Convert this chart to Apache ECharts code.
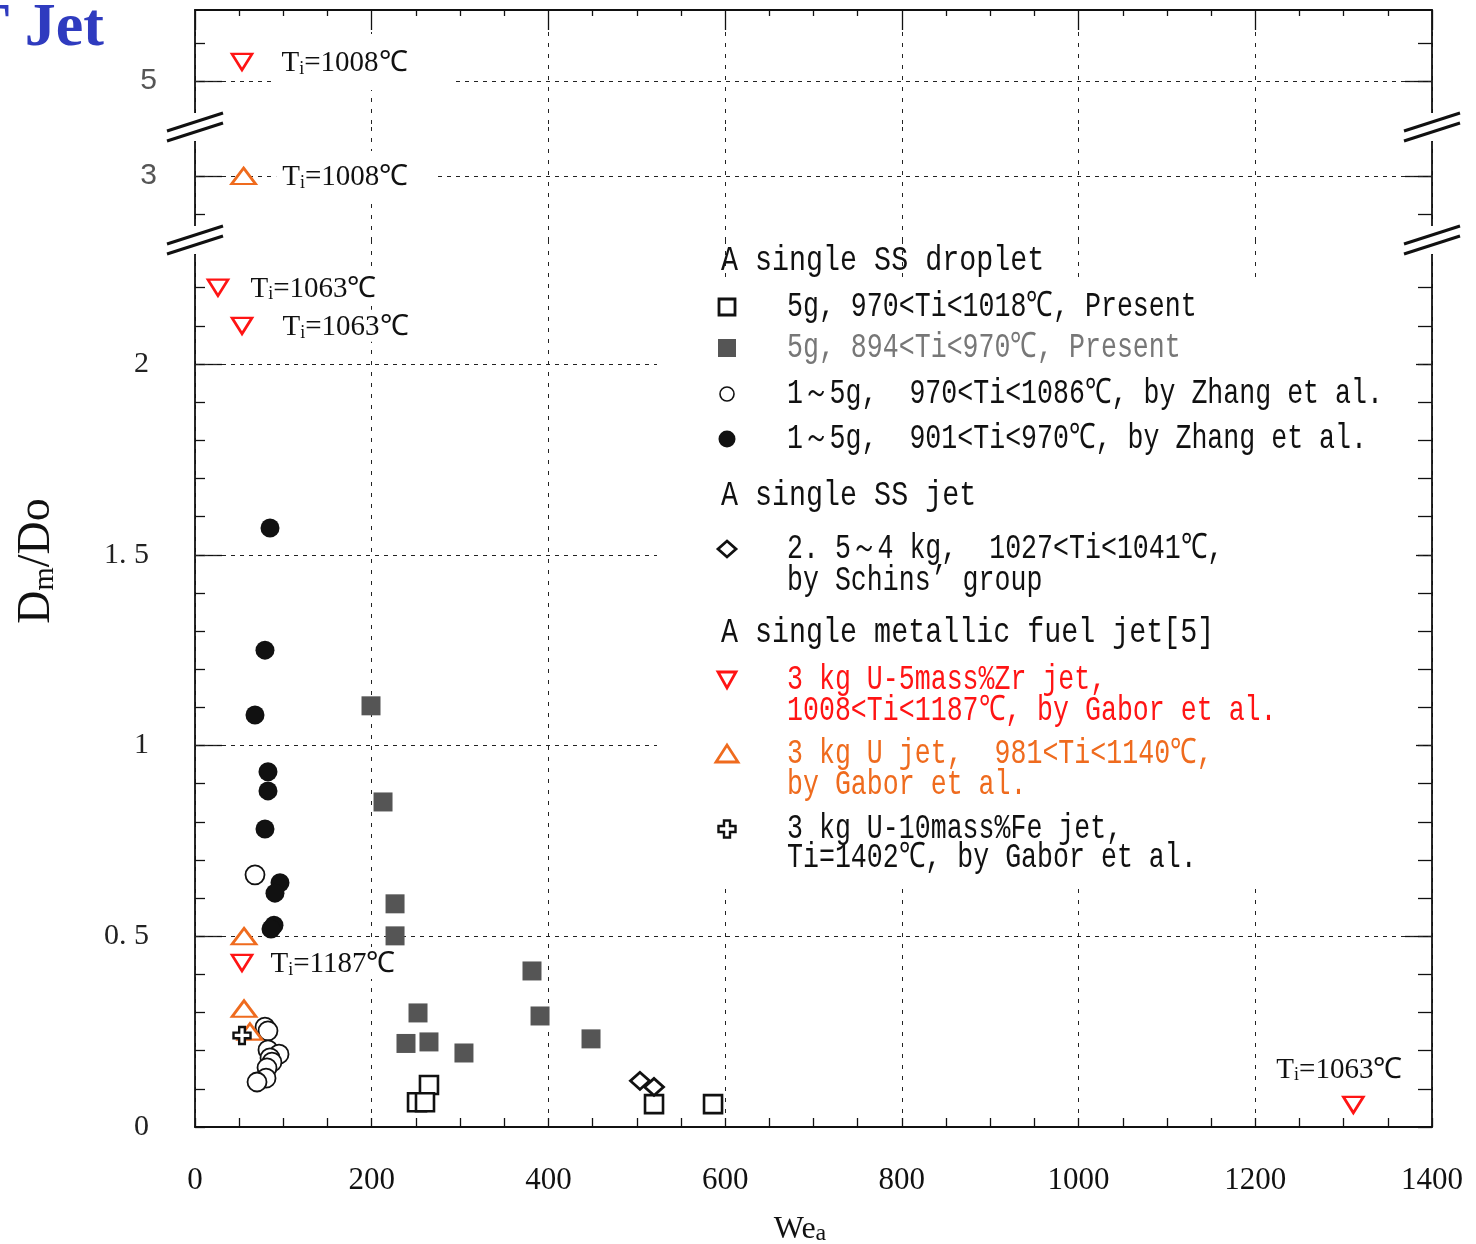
<!DOCTYPE html>
<html>
<head>
<meta charset="utf-8">
<script src="https://cdn.jsdelivr.net/npm/echarts@6/dist/echarts.min.js"></script>
<style>
  html, body { margin: 0; padding: 0; background: #fff; }
  #chart { width: 1476px; height: 1244px; }
</style>
</head>
<body>
<div id="chart"></div>
<script>
// ---------------- data: [We_a, Dm/Do] ----------------
// single SS droplet, 5 g, 970<Ti<1018 C (present work)
const present5gHot = [[264.8, 0.110], [251.3, 0.065], [260.3, 0.065], [519.5, 0.060], [586.3, 0.060]];
// single SS droplet, 5 g, 894<Ti<970 C (present work)
const present5gCool = [[199.2, 1.104], [212.8, 0.852], [226.4, 0.585], [226.4, 0.501], [381.4, 0.409],
  [252.4, 0.299], [390.5, 0.291], [238.8, 0.219], [264.8, 0.223], [304.4, 0.194], [448.2, 0.231]];
// single SS droplet, 1-5 g, 970<Ti<1086 C (Zhang et al.)
const zhangHot = [[67.9, 0.661], [79.2, 0.262], [82.6, 0.252], [82.6, 0.202], [95.1, 0.191],
  [84.9, 0.181], [87.1, 0.170], [81.5, 0.155], [80.4, 0.128], [70.2, 0.118]];
// single SS droplet, 1-5 g, 901<Ti<970 C (Zhang et al.)
const zhangCool = [[84.9, 1.570], [79.2, 1.250], [67.9, 1.080], [82.6, 0.931], [82.6, 0.881],
  [79.2, 0.781], [96.2, 0.640], [90.5, 0.613], [89.4, 0.529], [86.0, 0.519]];
// single SS jet, 2.5-4 kg (Schins' group)
const schinsJet = [[503.6, 0.121], [519.5, 0.105]];
// 3 kg U-5mass%Zr jet (Gabor et al.) and the initial temperature noted beside points
const gaborUZr = [[53.2, 5.05], [26.0, 2.20], [53.2, 2.10], [53.2, 0.43], [1311.0, 0.058]];
const gaborUZrTi = [1008, 1063, 1063, 1187, 1063];
// 3 kg U jet (Gabor et al.)
const gaborU = [[55.0, 3.0], [55.5, 0.50], [55.5, 0.31], [62.2, 0.25]];
const gaborUTi = [1008, null, null, null];
// 3 kg U-10mass%Fe jet (Gabor et al.)
const gaborUFe = [[53.2, 0.24]];

// axis ticks
const xMin = 0, xMax = 1400, xStep = 200;
const yLabelsTop = [5];
const yLabelsMid = [3];
const yLabelsLow = [0, 0.5, 1, 1.5, 2];

// ---------------- layout ----------------
const PLOT_L = 195, PLOT_R = 1432;
const UNIT = 381.5;                 // pixels per 1.0 of Dm/Do, same scale on every band
const RED = '#ff1414', ORANGE = '#ef6b1e', GREY_SQ = '#555555';
const INK = '#111';

// three stacked bands of the broken y axis
const BANDS = [
  { top: 10,  bottom: 127,  anchor: 5, anchorY: 81,   labels: yLabelsTop, labelFont: 'Liberation Sans', labelColor: '#555', margin: 38 },
  { top: 127, bottom: 240,  anchor: 3, anchorY: 176,  labels: yLabelsMid, labelFont: 'Liberation Sans', labelColor: '#555', margin: 38 },
  { top: 240, bottom: 1127, anchor: 0, anchorY: 1127, labels: yLabelsLow, labelFont: 'Liberation Serif', labelColor: '#222', margin: 46 }
];
BANDS.forEach(b => {
  b.min = b.anchor - (b.bottom - b.anchorY) / UNIT;
  b.max = b.anchor + (b.anchorY - b.top) / UNIT;
  b.minor = [];
  for (let k = Math.ceil(b.min * 10 - 1e-9); k <= Math.floor(b.max * 10 + 1e-9); k++) b.minor.push(k / 10);
  b.major = b.labels.filter(v => v > b.min + 1e-6);
});
function bandIndex(y) {
  for (let i = 0; i < BANDS.length; i++) if (y >= BANDS[i].min && y <= BANDS[i].max) return i;
  return BANDS.length - 1;
}

const axisLineStyle = { color: INK, width: 1.8 };
const tickStyle = { color: INK, width: 1.3 };

// ---------------- axes ----------------
const grids = BANDS.map(b => ({
  left: PLOT_L, width: PLOT_R - PLOT_L, top: b.top, height: b.bottom - b.top,
  containLabel: false, outerBoundsMode: 'none'
}));

const xAxes = BANDS.map((b, gi) => ({
  gridIndex: gi, type: 'value', min: xMin, max: xMax, interval: xStep,
  position: gi === 0 ? 'top' : 'bottom',
  axisLine: { show: gi !== 1, onZero: false, lineStyle: axisLineStyle },
  axisTick: { show: gi !== 1, inside: true, length: gi === 0 ? 20 : 9, lineStyle: tickStyle },
  minorTick: { show: gi !== 1, splitNumber: 4, length: gi === 0 ? 6 : 9, lineStyle: tickStyle },
  axisLabel: {
    show: gi === 2, margin: 38, color: INK,
    fontFamily: 'Liberation Serif', fontSize: 31,
    formatter: v => String(v)
  },
  splitLine: { show: true, lineStyle: { color: '#222', width: 1, type: [4, 7] } }
}));

const yAxes = [];
BANDS.forEach((b, gi) => {
  ['left', 'right'].forEach(side => {
    yAxes.push({
      gridIndex: gi, type: 'value', position: side, min: b.min, max: b.max,
      axisLine: { show: true, onZero: false, lineStyle: axisLineStyle },
      axisTick: { show: true, inside: true, length: 27, customValues: b.major, lineStyle: tickStyle },
      axisLabel: {
        show: side === 'left', customValues: b.labels, margin: b.margin,
        color: b.labelColor, fontFamily: b.labelFont, fontSize: 30,
        formatter: v => String(v).replace('.', '. ')
      },
      splitLine: { show: false }
    });
    yAxes.push({
      gridIndex: gi, type: 'value', position: side, min: b.min, max: b.max,
      axisLine: { show: false, onZero: false },
      axisTick: { show: true, inside: true, length: side === 'left' ? 10 : 14, customValues: b.minor, lineStyle: tickStyle },
      axisLabel: { show: false },
      splitLine: { show: false }
    });
  });
});

// ---------------- series ----------------
const CROSS = 'path://M6,0H12V6H18V12H12V18H6V12H0V6H6Z';
const GROUPS = [
  { data: present5gHot,  symbol: 'rect',     size: 18,       fill: '#fff',  stroke: INK,     lw: 2.6 },
  { data: present5gCool, symbol: 'rect',     size: 19,       fill: GREY_SQ, stroke: GREY_SQ, lw: 0 },
  { data: zhangHot,      symbol: 'circle',   size: 19,       fill: '#fff',  stroke: INK,     lw: 1.8 },
  { data: zhangCool,     symbol: 'circle',   size: 19,       fill: INK,     stroke: INK,     lw: 0 },
  { data: schinsJet,     symbol: 'diamond',  size: [19, 17], fill: '#fff',  stroke: INK,     lw: 2.8 },
  { data: gaborUZr,      symbol: 'triangle', size: [20, 16], fill: '#fff',  stroke: RED,     lw: 2.6, rotate: 180, notes: gaborUZrTi, place: 'uzr' },
  { data: gaborU,        symbol: 'triangle', size: [24, 16], fill: '#fff',  stroke: ORANGE,  lw: 2.6, notes: gaborUTi, place: 'u' },
  { data: gaborUFe,      symbol: CROSS,      size: 17,       fill: '#fff',  stroke: INK,     lw: 2.4 }
];

// where each temperature note sits beside its point
const NOTE_PLACE = {
  uzr: [
    { pos: 'right', dist: 22, pad: [12, 44, 12, 6] },
    { pos: 'right', dist: 19, pad: [0, 2, 0, 2] },
    { pos: 'right', dist: 27, pad: [0, 2, 0, 2] },
    { pos: 'right', dist: 15, pad: [0, 2, 0, 2] },
    { pos: 'top', dist: 11, pad: [0, 2, 0, 2], offset: [-14, 0] }
  ],
  u: [ { pos: 'right', dist: 19, pad: [9, 28, 9, 6] } ]
};

function noteLabel(ti, p) {
  return {
    show: true, position: p.pos, distance: p.dist, offset: p.offset || [0, 0],
    formatter: '{t|T}{s|i}{t|=' + ti + '℃}',
    backgroundColor: '#fff', padding: p.pad,
    rich: {
      t: { fontFamily: 'Liberation Serif', fontSize: 29, color: INK, lineHeight: 32, verticalAlign: 'bottom' },
      s: { fontFamily: 'Liberation Serif', fontSize: 18, color: INK, lineHeight: 14, verticalAlign: 'bottom' }
    }
  };
}

const series = [];
// reference lines of each band (dashed)
BANDS.forEach((b, gi) => {
  series.push({
    type: 'scatter', xAxisIndex: gi, yAxisIndex: gi * 4, data: [], z: 1, silent: true,
    markLine: {
      silent: true, symbol: 'none', animation: false, z: 1,
      label: { show: false },
      lineStyle: { color: '#222', width: 1, type: [4, 5] },
      data: b.labels.filter(v => v > b.min + 1e-6).map(v => ({ yAxis: v }))
    }
  });
});
GROUPS.forEach(g => {
  BANDS.forEach((b, gi) => {
    const items = [];
    g.data.forEach((pt, i) => {
      if (bandIndex(pt[1]) !== gi) return;
      const item = { value: pt };
      if (g.notes && g.notes[i] != null) item.label = noteLabel(g.notes[i], NOTE_PLACE[g.place][i]);
      items.push(item);
    });
    if (!items.length) return;
    series.push({
      type: 'scatter', xAxisIndex: gi, yAxisIndex: gi * 4, z: 6,
      symbol: g.symbol, symbolSize: g.size, symbolRotate: g.rotate || 0,
      itemStyle: { color: g.fill, borderColor: g.stroke, borderWidth: g.lw, opacity: 1 },
      label: { show: false },
      emphasis: { disabled: true },
      data: items
    });
  });
});

// ---------------- decorations: breaks, legend, titles ----------------
const elements = [];

// axis breaks: gap in the frame plus a double slash
[BANDS[0].bottom, BANDS[1].bottom].forEach(by => {
  [PLOT_L, PLOT_R].forEach(ax => {
    const left = ax === PLOT_L;
    elements.push({ type: 'rect', z: 10, shape: { x: left ? ax - 8 : ax - 17, y: by - 14, width: 25, height: 28 }, style: { fill: '#fff' } });
    [-5, 5].forEach(dy => {
      elements.push({ type: 'line', z: 11, shape: { x1: ax - 28, y1: by + dy + 9, x2: ax + 28, y2: by + dy - 9 }, style: { stroke: INK, lineWidth: 3 } });
    });
  });
});

// legend panel background
elements.push({ type: 'rect', z: 10, shape: { x: 657, y: 280, width: 759, height: 608 }, style: { fill: '#fff' } });

const LEG_MARK_X = 727, LEG_TEXT_X = 787, LEG_HEAD_X = 721;
const MONO = '"Liberation Mono", monospace';
function legText(txt, x, y, color, sx) {
  elements.push({
    type: 'text', z: 12, x: x, y: y, scaleX: sx,
    style: { text: txt, font: '35px ' + MONO, fill: color, textVerticalAlign: 'middle', verticalAlign: 'middle' }
  });
}
function poly(points, style) { elements.push({ type: 'polygon', z: 12, shape: { points }, style }); }

[['A single SS droplet', 261], ['A single SS jet', 496], ['A single metallic fuel jet[5]', 633]]
  .forEach(h => legText(h[0], LEG_HEAD_X, h[1], INK, 0.81));

const legendRows = [
  { mark: 'sq',    lines: [['5g, 970<Ti<1018℃, Present', 307]], color: INK },
  { mark: 'sqf',   lines: [['5g, 894<Ti<970℃, Present', 348]], color: '#777' },
  { mark: 'ci',    lines: [['1～5g,  970<Ti<1086℃, by Zhang et al.', 394]], color: INK },
  { mark: 'cif',   lines: [['1～5g,  901<Ti<970℃, by Zhang et al.', 439]], color: INK },
  { mark: 'dia',   lines: [['2. 5～4 kg,  1027<Ti<1041℃,', 549], ['by Schins’ group', 581]], color: INK },
  { mark: 'tdown', lines: [['3 kg U-5mass%Zr jet,', 680], ['1008<Ti<1187℃, by Gabor et al.', 711]], color: RED },
  { mark: 'tup',   lines: [['3 kg U jet,  981<Ti<1140℃,', 754], ['by Gabor et al.', 785]], color: ORANGE },
  { mark: 'cross', lines: [['3 kg U-10mass%Fe jet,', 829], ['Ti=1402℃, by Gabor et al.', 858]], color: INK }
];
legendRows.forEach(r => {
  const cx = LEG_MARK_X, cy = r.lines[0][1];
  switch (r.mark) {
    case 'sq':  elements.push({ type: 'rect', z: 12, shape: { x: cx - 8, y: cy - 8, width: 16, height: 16 }, style: { fill: '#fff', stroke: INK, lineWidth: 2.8 } }); break;
    case 'sqf': elements.push({ type: 'rect', z: 12, shape: { x: cx - 9, y: cy - 9, width: 18, height: 18 }, style: { fill: GREY_SQ } }); break;
    case 'ci':  elements.push({ type: 'circle', z: 12, shape: { cx, cy, r: 7 }, style: { fill: '#fff', stroke: INK, lineWidth: 1.6 } }); break;
    case 'cif': elements.push({ type: 'circle', z: 12, shape: { cx, cy, r: 8.5 }, style: { fill: INK } }); break;
    case 'dia': poly([[cx, cy - 8], [cx + 9, cy], [cx, cy + 8], [cx - 9, cy]], { fill: '#fff', stroke: INK, lineWidth: 2.8 }); break;
    case 'tdown': poly([[cx - 9, cy - 8], [cx + 9, cy - 8], [cx, cy + 8]], { fill: '#fff', stroke: RED, lineWidth: 2.8 }); break;
    case 'tup': poly([[cx - 11, cy + 8], [cx + 11, cy + 8], [cx, cy - 9]], { fill: '#fff', stroke: ORANGE, lineWidth: 2.8 }); break;
    case 'cross': {
      const s = 17, t = 6;
      poly([[cx - t / 2, cy - s / 2], [cx + t / 2, cy - s / 2], [cx + t / 2, cy - t / 2], [cx + s / 2, cy - t / 2],
            [cx + s / 2, cy + t / 2], [cx + t / 2, cy + t / 2], [cx + t / 2, cy + s / 2], [cx - t / 2, cy + s / 2],
            [cx - t / 2, cy + t / 2], [cx - s / 2, cy + t / 2], [cx - s / 2, cy - t / 2], [cx - t / 2, cy - t / 2]],
           { fill: '#fff', stroke: INK, lineWidth: 2.4 });
      break;
    }
  }
  r.lines.forEach(l => legText(l[0], LEG_TEXT_X, l[1], r.color, 0.76));
});

// axis titles
elements.push({
  type: 'text', z: 12, x: 35, y: 561, rotation: Math.PI / 2,
  style: {
    text: '{d|D}{s|m}{d|/Do}', textAlign: 'center', align: 'center', textVerticalAlign: 'middle', verticalAlign: 'middle',
    rich: {
      d: { fontFamily: 'Liberation Serif', fontSize: 46, fill: INK, lineHeight: 50, verticalAlign: 'bottom' },
      s: { fontFamily: 'Liberation Serif', fontSize: 30, fill: INK, lineHeight: 34, verticalAlign: 'bottom' }
    }
  }
});
elements.push({
  type: 'text', z: 12, x: 800, y: 1228,
  style: {
    text: '{w|We}{s|a}', textAlign: 'center', align: 'center', textVerticalAlign: 'middle', verticalAlign: 'middle',
    rich: {
      w: { fontFamily: 'Liberation Serif', fontSize: 32, fill: INK, lineHeight: 36, verticalAlign: 'bottom' },
      s: { fontFamily: 'Liberation Serif', fontSize: 24, fill: INK, lineHeight: 26, verticalAlign: 'bottom' }
    }
  }
});
// slide heading running off the left edge
elements.push({
  type: 'text', z: 20, x: 104, y: 29,
  style: { text: 'T Jet', font: 'bold 62px "Liberation Serif", serif', fill: '#2f3bbf',
           textAlign: 'right', align: 'right', textVerticalAlign: 'middle', verticalAlign: 'middle' }
});

const chart = echarts.init(document.getElementById('chart'), null, { renderer: 'canvas' });
chart.setOption({
  animation: false,
  backgroundColor: '#fff',
  grid: grids,
  xAxis: xAxes,
  yAxis: yAxes,
  series: series,
  graphic: { elements: elements }
});
</script>
</body>
</html>
